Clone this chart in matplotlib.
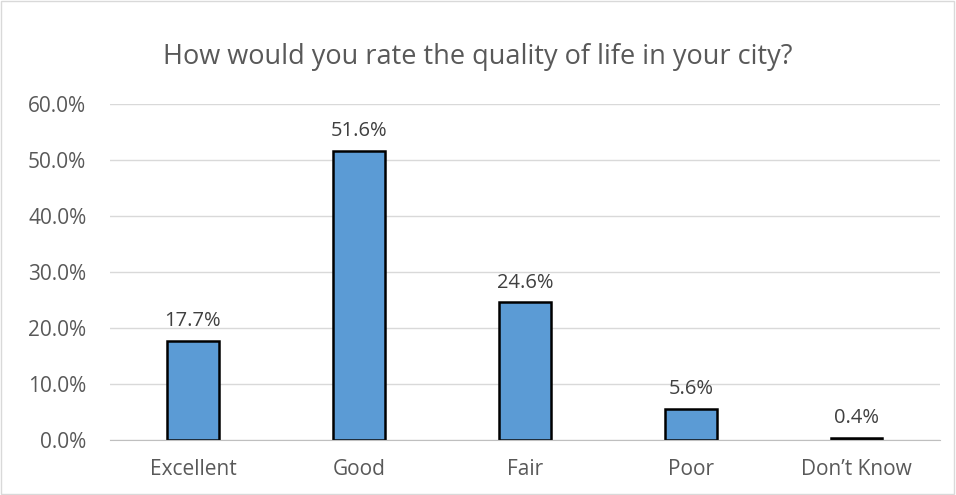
import matplotlib
matplotlib.use("Agg")
import matplotlib.pyplot as plt
from matplotlib.patches import Rectangle

categories = ["Excellent", "Good", "Fair", "Poor", "Don\u2019t Know"]
values = [17.7, 51.6, 24.6, 5.6, 0.4]
yticks = [0, 10, 20, 30, 40, 50, 60]
title = "How would you rate the quality of life in your city?"

plt.rcParams['font.family'] = ['Open Sans', 'DejaVu Sans']

fig = plt.figure(figsize=(9.56, 4.95), dpi=100)
ax = fig.add_axes([0.115, 0.111, 0.868, 0.679])

x = list(range(len(categories)))
ax.bar(x, values, width=0.31, color="#5B9BD5", edgecolor="black", linewidth=1.8, zorder=3)
for xi, v in zip(x, values):
    ax.annotate(f"{v:.1f}%", (xi, v), xytext=(0, 7), textcoords="offset points",
                ha="center", va="bottom", fontsize=14.5, color="#404040")

ax.set_xlim(-0.5, len(categories) - 0.5)
ax.set_ylim(0, 60)
ax.set_yticks(yticks)
ax.set_yticklabels([f"{t:.1f}%" for t in yticks])
ax.set_xticks(x)
ax.set_xticklabels(categories)
ax.tick_params(axis="both", length=0, labelsize=15, labelcolor="#595959")
ax.tick_params(axis="y", pad=17)
ax.tick_params(axis="x", pad=14)
ax.yaxis.grid(True, color="#D9D9D9", linewidth=1, zorder=0)
for s in ["top", "right", "left"]:
    ax.spines[s].set_visible(False)
ax.spines["bottom"].set_color("#BFBFBF")
ax.spines["bottom"].set_zorder(4)

fig.text(0.5, 0.885, title, ha="center", va="center", fontsize=19.5, color="#595959")
fig.patches.append(Rectangle((0.001, 0.002), 0.997, 0.996, transform=fig.transFigure,
                             fill=False, edgecolor="#D9D9D9", linewidth=1))

fig.savefig("out.png", dpi=100)
